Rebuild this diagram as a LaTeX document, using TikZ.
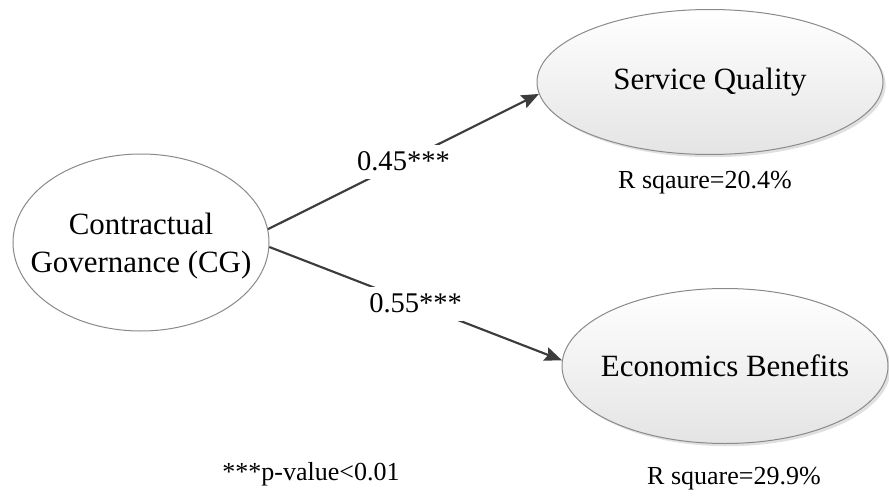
\documentclass[tikz,border=0pt]{standalone}
\usepackage{fontspec}
\setmainfont{Liberation Serif}
\usetikzlibrary{shapes.geometric,arrows.meta,shadows}

\definecolor{edgegray}{HTML}{3C3C3C}
\definecolor{rimgray}{HTML}{8A8A8A}
\definecolor{shadegray}{HTML}{E4E4E4}

\tikzset{
  construct/.style={ellipse, draw=rimgray, line width=0.75pt, inner sep=0pt},
  shaded/.style={construct, top color=white, bottom color=shadegray,
    drop shadow={shadow xshift=2pt, shadow yshift=-2pt, fill=black, opacity=0.12}},
  bigtext/.style={font=\fontsize{23.2pt}{28.5pt}\selectfont},
  coef/.style={fill=white, inner xsep=1pt, inner ysep=0pt, minimum height=25.5pt,
    font=\fontsize{21.4pt}{24pt}\selectfont},
  note/.style={font=\fontsize{19.5pt}{22pt}\selectfont, inner sep=0pt},
  path/.style={draw=edgegray, line width=1.6pt,
    -{Stealth[length=13pt, width=10.5pt, inset=2pt]}}
}

\begin{document}
\begin{tikzpicture}[x=0.75pt, y=-0.75pt]
  \useasboundingbox (0,0) rectangle (889,496);

  % latent constructs
  \node[construct, fill=white, minimum width=192pt, minimum height=132.75pt,
        label={[bigtext, align=center, yshift=-3pt]center:Contractual\\Governance (CG)}]
        (cg) at (141,242.5) {};
  \node[shaded, minimum width=259.5pt, minimum height=108.75pt,
        label={[bigtext]center:Service Quality}] (sq) at (710,82) {};
  \node[shaded, minimum width=244.5pt, minimum height=116.25pt,
        label={[bigtext]center:Economics Benefits}] (eb) at (725,366) {};

  % structural paths with coefficients
  \draw[path] (cg.6) -- node[coef] (c1) {0.45***} (sq.184);
  \draw[path] (cg.-2) -- node[coef] (c2) {0.55***} (eb.178);

  % explained variance and significance note
  \node[note] (r1) at (705,183) {R sqaure=20.4\%};
  \node[note] (r2) at (734,479) {R square=29.9\%};
  \node[note] (pv) at (311,474) {***p-value<0.01};
\end{tikzpicture}
\end{document}
